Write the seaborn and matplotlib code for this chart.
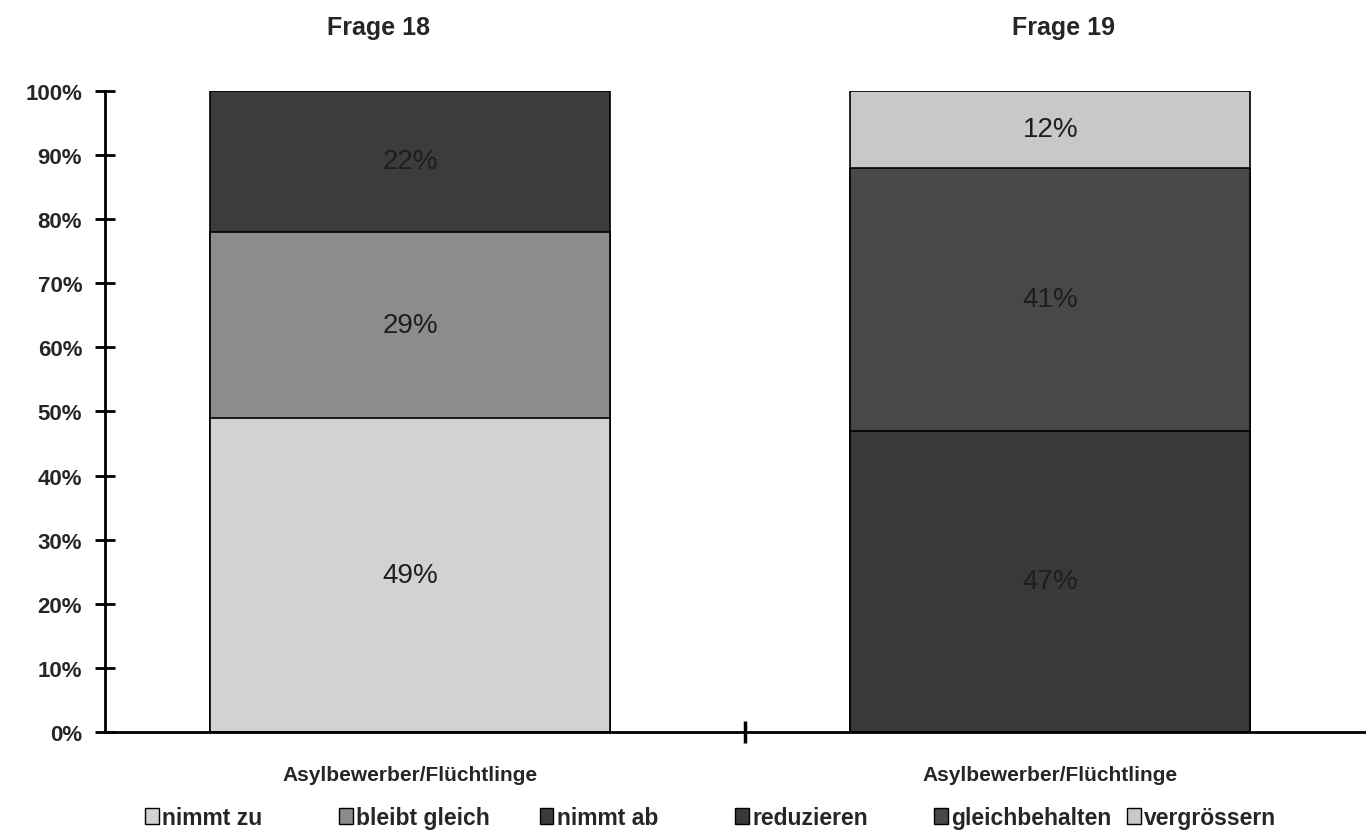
import matplotlib
matplotlib.use('Agg')
import matplotlib.pyplot as plt
import matplotlib.patches as mpatches
import seaborn as sns
import pandas as pd
import numpy as np

# data
questions = ['Frage 18', 'Frage 19']
segment_labels = [['nimmt zu', 'bleibt gleich', 'nimmt ab'],
                  ['reduzieren', 'gleichbehalten', 'vergrössern']]
segment_values = [[49, 29, 22],
                  [47, 41, 12]]
segment_colors = [['#d2d2d2', '#8c8c8c', '#3c3c3c'],
                  ['#393939', '#484848', '#c8c8c8']]
category_label = 'Asylbewerber/Flüchtlinge'

sns.set_theme(style='white')
plt.rcParams['font.family'] = ['Liberation Sans', 'DejaVu Sans']

fig = plt.figure(figsize=(13.66, 8.37), dpi=100)
ax = fig.add_axes([0.0769, 0.1243, 0.9231, 0.766])

vals = np.array(segment_values)
cum = vals.cumsum(axis=1)

# stacked bars: tallest layer first, lower layers drawn over it
for level in reversed(range(vals.shape[1])):
    df = pd.DataFrame({'q': questions, 'top': cum[:, level]})
    cols = [segment_colors[i][level] for i in range(len(questions))]
    sns.barplot(data=df, x='q', y='top', hue='q', palette=cols, legend=False,
                width=0.625, edgecolor='black', linewidth=1.2, saturation=1, ax=ax)

for i in range(len(questions)):
    for level in range(vals.shape[1]):
        mid = cum[i, level] - vals[i, level] / 2
        ax.text(i, mid, f'{vals[i, level]}%', ha='center', va='center',
                fontsize=20, color='#1e1e1e')

ax.set_ylim(0, 100)
ax.set_xlim(-0.477, 1.493)
ax.set_yticks(range(0, 101, 10))
ax.set_yticklabels([f'{t}%' for t in range(0, 101, 10)], fontsize=16, fontweight='bold')
ax.set_xticks([0, 1])
ax.set_xticklabels([category_label, category_label], fontsize=15, fontweight='bold')
ax.set_xticks([0.523], minor=True)
ax.tick_params(axis='x', which='major', length=0, pad=24)
ax.tick_params(axis='x', which='minor', length=16, width=2.5, direction='inout', color='black', bottom=True)
ax.tick_params(axis='y', length=15, width=2, direction='inout', color='black', left=True, pad=9)
ax.set_xlabel('')
ax.set_ylabel('')

for side in ['top', 'right']:
    ax.spines[side].set_visible(False)
for side in ['left', 'bottom']:
    ax.spines[side].set_color('black')
    ax.spines[side].set_linewidth(2)

title_x = [-0.05, 1.02]
for i, q in enumerate(questions):
    ax.text(title_x[i], 1.1, q, transform=ax.get_xaxis_transform(), ha='center',
            va='center', fontsize=18, fontweight='bold')

# legend entries at fixed positions, like the original
legend_x = [0.106, 0.248, 0.395, 0.538, 0.684, 0.825]
k = 0
for i in range(len(questions)):
    for level in range(vals.shape[1]):
        h = mpatches.Patch(facecolor=segment_colors[i][level], edgecolor='black')
        fig.legend(handles=[h], labels=[segment_labels[i][level]], loc='center left',
                   bbox_to_anchor=(legend_x[k], 0.022), frameon=False,
                   prop={'size': 16.5, 'weight': 'bold'},
                   handlelength=0.6, handleheight=0.75, handletextpad=0.15,
                   borderpad=0, borderaxespad=0)
        k += 1

fig.savefig('out.png', dpi=100)
